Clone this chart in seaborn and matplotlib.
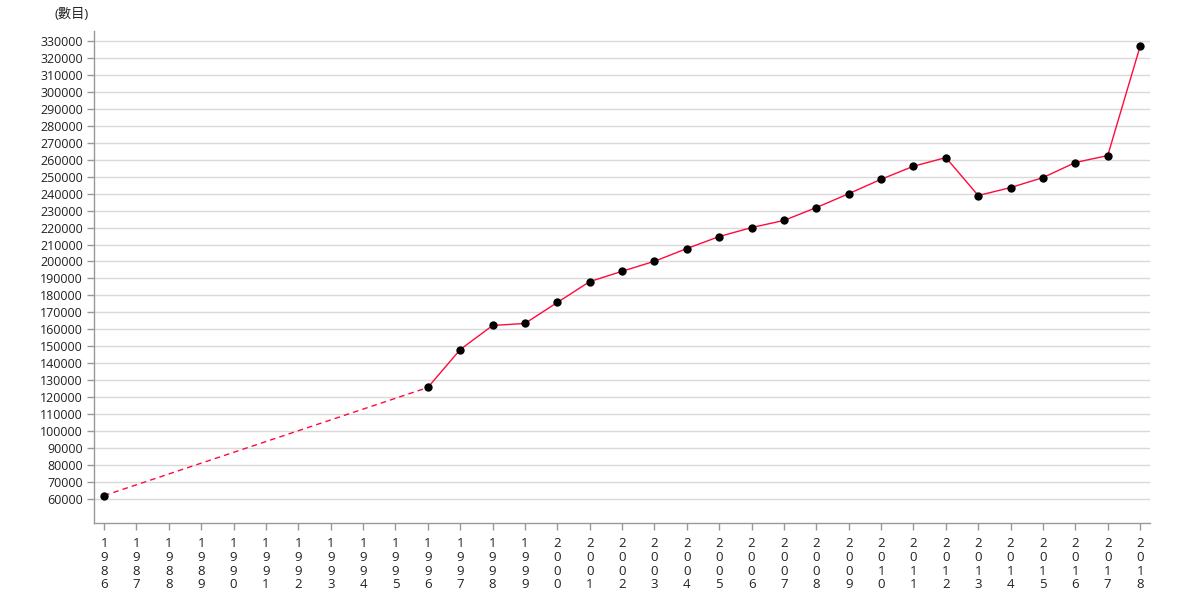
import matplotlib
matplotlib.use("Agg")
import matplotlib.pyplot as plt
import seaborn as sns
import pandas as pd

# data
years = [1986, 1996, 1997, 1998, 1999, 2000, 2001, 2002, 2003, 2004, 2005,
         2006, 2007, 2008, 2009, 2010, 2011, 2012, 2013, 2014, 2015, 2016,
         2017, 2018]
counts = [61800, 125600, 148000, 162200, 163400, 175800, 188100, 194200,
          200100, 207600, 214700, 220000, 224200, 231800, 240000, 248500,
          256200, 261300, 238900, 243600, 249500, 258400, 262500, 327000]
tick_years = list(range(1986, 2019))
y_ticks = list(range(60000, 330001, 10000))
y_label = "(數目)"

df = pd.DataFrame({"year": years, "count": counts})
gap = df.iloc[:2]      # 1986 -> 1996, no yearly data in between
cont = df.iloc[1:]

sns.set_style("white")
plt.rcParams["font.family"] = ["Open Sans", "Noto Sans CJK TC", "DejaVu Sans"]

fig = plt.figure(figsize=(11.8, 6), dpi=100)
ax = fig.add_axes([0.0797, 0.128, 0.895, 0.820])

line_col = "#ff0a3c"
sns.lineplot(data=gap, x="year", y="count", ax=ax, color=line_col,
             linewidth=1, linestyle=(0, (4, 3)))
sns.lineplot(data=cont, x="year", y="count", ax=ax, color=line_col,
             linewidth=1)
sns.scatterplot(data=df, x="year", y="count", ax=ax, color="black", s=36,
                edgecolor="black", linewidth=0, zorder=5)

ax.set_xlim(1986 - 0.31, 2018 + 0.31)
ax.set_ylim(45500, 335900)
ax.set_yticks(y_ticks)
ax.set_yticklabels([str(v) for v in y_ticks])
ax.set_xticks(tick_years)
ax.set_xticklabels(["\n".join(str(y)) for y in tick_years], linespacing=1.08,
                   fontsize=9.5)

ax.grid(axis="y", color="#d9d9d9", linewidth=1)
ax.set_axisbelow(True)
for s in ["top", "right"]:
    ax.spines[s].set_visible(False)
for s in ["left", "bottom"]:
    ax.spines[s].set_color("#999999")
    ax.spines[s].set_linewidth(1)
ax.tick_params(axis="both", which="major", length=5, width=1,
               color="#999999", labelcolor="#222222",
               direction="out", bottom=True, left=True)
ax.tick_params(axis="y", labelsize=9, pad=3)
ax.tick_params(axis="x", pad=5)
ax.set_xlabel("")
ax.set_ylabel("")

ax.annotate(y_label, xy=(0, 1), xycoords="axes fraction",
            xytext=(-22, 17), textcoords="offset pixels",
            ha="center", va="center", fontsize=9.5, color="#222222")

fig.savefig("out.png", dpi=100)
